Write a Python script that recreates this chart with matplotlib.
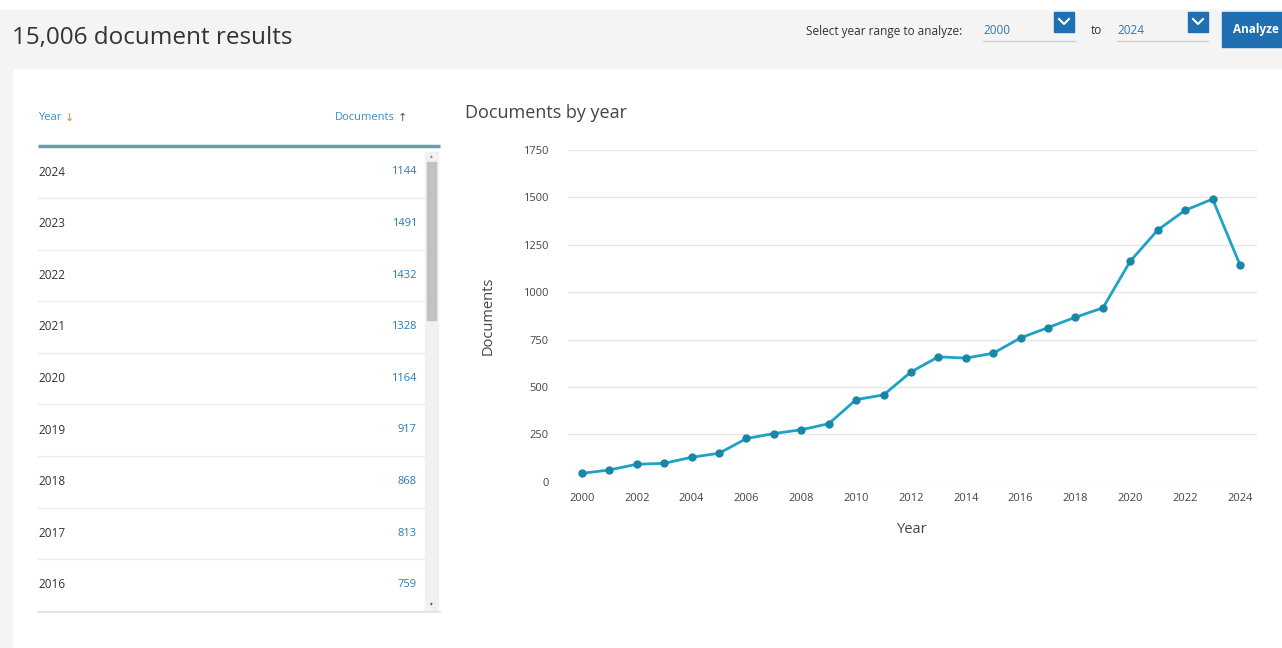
import matplotlib.pyplot as plt
from matplotlib.patches import Rectangle

# Datos
years = [2000, 2001, 2002, 2003, 2004, 2005, 2006, 2007, 2008, 2009, 2010, 2011,
         2012, 2013, 2014, 2015, 2016, 2017, 2018, 2019, 2020, 2021, 2022, 2023, 2024]
documents = [44, 62, 92, 97, 129, 150, 228, 254, 274, 306, 433, 458,
             579, 659, 652, 678, 759, 813, 868, 917, 1164, 1328, 1432, 1491, 1144]
total_docs = "15,006"
y_ticks = [0, 250, 500, 750, 1000, 1250, 1500, 1750]
x_ticks = list(range(2000, 2025, 2))
table_rows = 9  # filas visibles en la tabla

plt.rcParams["font.family"] = ["Open Sans", "DejaVu Sans"]

W, H = 1282, 648
fig = plt.figure(figsize=(W / 100, H / 100), dpi=100)

# Fondo en coordenadas de pixel
bg = fig.add_axes([0, 0, 1, 1])
bg.set_xlim(0, W)
bg.set_ylim(H, 0)
bg.axis("off")

grey = "#f4f4f4"
blue = "#2a79b5"
bg.add_patch(Rectangle((0, 10), W, 58, color=grey, zorder=0))
bg.add_patch(Rectangle((0, 68), 12, H - 68, color=grey, zorder=0))

# Cabecera
bg.text(12, 38, f"{total_docs} document results", fontsize=17.5, color="#333333", va="center")
bg.text(806, 31, "Select year range to analyze:", fontsize=8.5, color="#333333", va="center")
bg.text(983, 31, str(years[0]), fontsize=8.5, color=blue, va="center")
bg.plot([983, 1075], [41, 41], color="#d0d0d0", lw=1)
bg.add_patch(Rectangle((1054, 12), 20, 20, color="#1f6fb2"))
bg.plot([1059, 1064, 1069], [19, 24, 19], color="white", lw=1.5)
bg.text(1091, 31, "to", fontsize=8.5, color="#333333", va="center")
bg.text(1117, 31, str(years[-1]), fontsize=8.5, color=blue, va="center")
bg.plot([1117, 1208], [41, 41], color="#d0d0d0", lw=1)
bg.add_patch(Rectangle((1188, 12), 20, 20, color="#1f6fb2"))
bg.plot([1193, 1198, 1203], [19, 24, 19], color="white", lw=1.5)
bg.add_patch(Rectangle((1222, 12), 60, 35, color="#1f6fb2"))
bg.text(1233, 30, "Analyze", fontsize=8.5, color="white", va="center", fontweight="bold")

# Tabla
bg.text(38, 117, "Year", fontsize=8, color="#3b8fc4", va="center")
bg.text(65, 118, "↓", fontsize=8, color="#e8823a", va="center", family="DejaVu Sans")
bg.text(395, 117, "Documents", fontsize=8, color="#3b8fc4", va="center", ha="right")
bg.text(398, 118, "↑", fontsize=8, color="#555555", va="center", family="DejaVu Sans")
bg.plot([38, 440], [146, 146], color="#6f9ea6", lw=2.5, solid_capstyle="butt")

row_h = 51.6
rows = list(zip(years[::-1], documents[::-1]))[:table_rows]
for i, (yr, dc) in enumerate(rows):
    yc = 172 + i * row_h
    bg.text(38, yc, str(yr), fontsize=8.5, color="#333333", va="center")
    bg.text(417, yc, str(dc), fontsize=8, color="#2a79b5", va="center", ha="right")
    bg.plot([38, 425], [yc + 26, yc + 26], color="#ececec", lw=1)
bg.plot([38, 440], [612, 612], color="#e0e0e0", lw=1.2)

# Barra de desplazamiento
bg.add_patch(Rectangle((425, 152), 13, 458, color="#f1f1f1"))
bg.add_patch(Rectangle((427, 162), 9, 158, color="#c1c1c1"))
bg.text(431.5, 156, "▴", fontsize=4, color="#888888", ha="center", va="center")
bg.text(431.5, 604, "▾", fontsize=4, color="#555555", ha="center", va="center")

# Gráfico
bg.text(465, 113, "Documents by year", fontsize=13, color="#444444", va="center")

left, right = 568, 1257
top, bottom = 150, 481.7
ax = fig.add_axes([left / W, 1 - bottom / H, (right - left) / W, (bottom - top) / H])
ax.plot(years, documents, color="#1ea2c6", lw=2, marker="o", markersize=5,
        markerfacecolor="#1a86a6", markeredgecolor="#1a86a6", clip_on=False, zorder=3)
ax.set_xlim(1999.49, 2024.62)
ax.set_ylim(0, 1750)
ax.set_yticks(y_ticks)
ax.set_xticks(x_ticks)
ax.grid(axis="y", color="#e6e6e6", lw=1)
ax.set_axisbelow(True)
for s in ax.spines.values():
    s.set_visible(False)
ax.tick_params(length=0, labelsize=8, labelcolor="#444444")
ax.tick_params(axis="y", pad=14)
ax.tick_params(axis="x", pad=8)
ax.set_xlabel("Year", fontsize=10.5, color="#444444", labelpad=13)
ax.set_ylabel("Documents", fontsize=10.5, color="#444444", labelpad=20)
ax.set_facecolor("none")

fig.savefig("out.png", dpi=100)
